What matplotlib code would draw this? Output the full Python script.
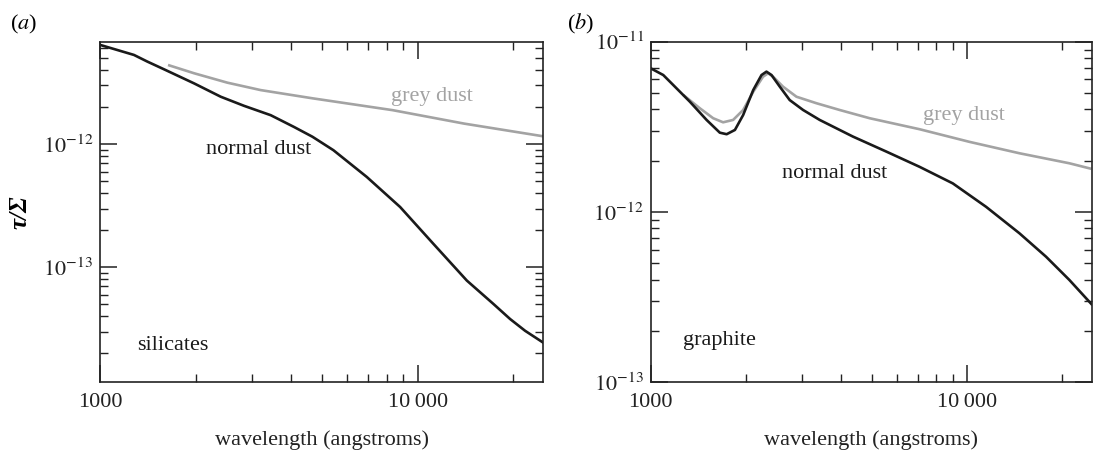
import numpy as np
import matplotlib
matplotlib.use("Agg")
import matplotlib.pyplot as plt
from matplotlib.ticker import FixedLocator, FixedFormatter, LogLocator, NullFormatter

plt.rcParams['font.family'] = ['Liberation Serif', 'DejaVu Serif']
plt.rcParams['mathtext.fontset'] = 'stix'
plt.rcParams['font.size'] = 16

# (a) silicates: opacity per column density vs wavelength
sil_normal_wl = [1000, 1279, 1409, 1590, 1977, 2399, 2840, 3447, 4081, 4662, 5428,
                 6914, 8803, 11207, 14280, 17310, 19540, 21780, 24800]
sil_normal_tau = [6.41e-12, 5.31e-12, 4.69e-12, 4.06e-12, 3.12e-12, 2.43e-12, 2.05e-12,
                  1.72e-12, 1.38e-12, 1.15e-12, 8.94e-13, 5.42e-13, 3.09e-13,
                  1.55e-13, 7.8e-14, 5.04e-14, 3.8e-14, 3.05e-14, 2.45e-14]
sil_grey_wl = [1637, 1977, 2518, 3207, 4662, 8340, 14000, 24800]
sil_grey_tau = [4.40e-12, 3.77e-12, 3.16e-12, 2.75e-12, 2.36e-12, 1.89e-12, 1.47e-12, 1.16e-12]

# (b) graphite
gra_normal_wl = [1000, 1096, 1178, 1330, 1502, 1654, 1738, 1846, 1960, 2109, 2240,
                 2322, 2409, 2559, 2750, 3031, 3420, 4355, 5555, 7071, 9007, 11480,
                 14630, 17750, 21030, 24700]
gra_normal_tau = [6.98e-12, 6.37e-12, 5.57e-12, 4.44e-12, 3.47e-12, 2.92e-12, 2.86e-12,
                  3.03e-12, 3.71e-12, 5.20e-12, 6.37e-12, 6.67e-12, 6.37e-12, 5.44e-12,
                  4.54e-12, 3.97e-12, 3.47e-12, 2.77e-12, 2.26e-12, 1.84e-12, 1.47e-12,
                  1.07e-12, 7.48e-13, 5.45e-13, 3.98e-13, 2.87e-13]
gra_grey_wl = [1267, 1431, 1576, 1694, 1822, 1960, 2109, 2265, 2350, 2436, 2620, 2888,
               3340, 3955, 4921, 7071, 10160, 14630, 21030, 24700]
gra_grey_tau = [4.87e-12, 4.06e-12, 3.55e-12, 3.36e-12, 3.47e-12, 3.97e-12, 5.08e-12,
                6.23e-12, 6.52e-12, 6.23e-12, 5.44e-12, 4.75e-12, 4.35e-12, 3.97e-12,
                3.55e-12, 3.06e-12, 2.58e-12, 2.21e-12, 1.93e-12, 1.79e-12]

x_ticks = [1000, 10000]
x_ticklabels = ["1000", "10\u2009000"]

BLACK = "#1a1a1a"
GREY = "#a3a3a3"

fig = plt.figure(figsize=(10.93, 4.5), dpi=100)
ax_a = fig.add_axes([0.0915, 0.1511, 0.4053, 0.7562])
ax_b = fig.add_axes([0.5953, 0.1511, 0.4038, 0.7562])


def style_axis(ax, ylim, yticks, ylabels):
    ax.set_xscale('log')
    ax.set_yscale('log')
    ax.set_xlim(1000, 24800)
    ax.set_ylim(*ylim)
    ax.xaxis.set_major_locator(FixedLocator(x_ticks))
    ax.xaxis.set_major_formatter(FixedFormatter(x_ticklabels))
    ax.xaxis.set_minor_locator(LogLocator(base=10, subs=range(2, 10), numticks=20))
    ax.xaxis.set_minor_formatter(NullFormatter())
    ax.yaxis.set_major_locator(FixedLocator(yticks))
    ax.yaxis.set_major_formatter(FixedFormatter(ylabels))
    ax.yaxis.set_minor_locator(LogLocator(base=10, subs=range(2, 10), numticks=20))
    ax.yaxis.set_minor_formatter(NullFormatter())
    ax.tick_params(which='both', direction='in', top=True, right=True, colors='#222222')
    ax.tick_params(which='major', length=12, width=1.1, labelsize=16)
    ax.tick_params(axis='x', which='major', pad=8)
    ax.tick_params(axis='y', which='major', pad=5)
    ax.tick_params(which='minor', length=6, width=1.0)
    for sp in ax.spines.values():
        sp.set_linewidth(1.2)
        sp.set_color('#222222')
    ax.set_xlabel("wavelength (angstroms)", fontsize=16, labelpad=13, color='#222222')


style_axis(ax_a, (1.17e-14, 6.8e-12), [1e-13, 1e-12],
           [r"$10^{-13}$", r"$10^{-12}$"])
style_axis(ax_b, (1e-13, 1e-11), [1e-13, 1e-12, 1e-11],
           [r"$10^{-13}$", r"$10^{-12}$", r"$10^{-11}$"])

# silicate curves
ax_a.plot(sil_grey_wl, sil_grey_tau, color=GREY, lw=1.9, solid_capstyle='butt')
ax_a.plot(sil_normal_wl, sil_normal_tau, color=BLACK, lw=1.9)
ax_a.text(8230, 2.42e-12, "grey dust", color=GREY, va='center', ha='left')
ax_a.text(2160, 9.1e-13, "normal dust", color=BLACK, va='center', ha='left')
ax_a.text(1313, 2.3e-14, "silicates", color=BLACK, va='center', ha='left')
ax_a.set_ylabel("τ/Σ", fontsize=18, labelpad=8, fontstyle='italic', fontweight='bold')

# graphite curves
ax_b.plot(gra_grey_wl, gra_grey_tau, color=GREY, lw=1.9, solid_capstyle='butt')
ax_b.plot(gra_normal_wl, gra_normal_tau, color=BLACK, lw=1.9)
ax_b.text(7245, 3.70e-12, "grey dust", color=GREY, va='center', ha='left')
ax_b.text(2605, 1.68e-12, "normal dust", color=BLACK, va='center', ha='left')
ax_b.text(1266, 1.745e-13, "graphite", color=BLACK, va='center', ha='left')

fig.text(10 / 1093, 1 - 24 / 450, "($a$)", fontsize=16, va='center', ha='left')
fig.text(567 / 1093, 1 - 24 / 450, "($b$)", fontsize=16, va='center', ha='left')

fig.savefig("out.png", dpi=100)
